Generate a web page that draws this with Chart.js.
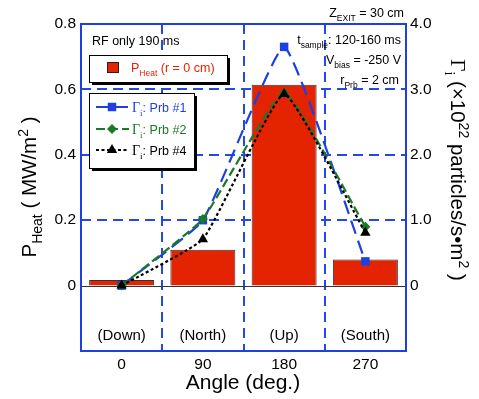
<!DOCTYPE html>
<html><head><meta charset="utf-8">
<script src="https://cdn.jsdelivr.net/npm/chart.js@4"></script>
<style>html,body{margin:0;padding:0;background:#fff}canvas{display:block}</style>
</head><body>
<canvas id="c" width="479" height="399"></canvas>
<script>
const categories = ['0', '90', '180', '270'];
const directions = ['(Down)', '(North)', '(Up)', '(South)'];
const pHeat = [0.017, 0.11, 0.614, 0.08];
const prb1 = [0, 1.0, 3.65, 0.37];
const prb2 = [0, 1.02, 2.95, 0.9];
const prb4 = [0, 0.71, 2.93, 0.81];
const leftTicks = [0, 0.2, 0.4, 0.6, 0.8];
const rightTicks = [0, 1, 2, 3, 4];
const gridLeftValues = [0.2, 0.4, 0.6];

const SANS = '"Liberation Sans", Arial, sans-serif';
const SERIF = '"Liberation Serif", "Times New Roman", serif';
const BLUE = '#1e3fe4';
const GRIDBLUE = '#2448ea';
const GREEN = '#1b7a26';
const RED = '#e42300';

function fmt(v) { return v === 0 ? '0' : v.toFixed(1); }

function rich(ctx, parts, x, y, align) {
  let w = 0;
  parts.forEach(p => {
    ctx.font = p.s + 'px ' + (p.serif ? SERIF : SANS);
    p.w = ctx.measureText(p.t).width; w += p.w;
  });
  let cx = align === 'right' ? x - w : (align === 'center' ? x - w / 2 : x);
  ctx.textAlign = 'left'; ctx.textBaseline = 'alphabetic';
  parts.forEach(p => {
    ctx.font = p.s + 'px ' + (p.serif ? SERIF : SANS);
    ctx.fillStyle = p.c || '#000';
    ctx.fillText(p.t, cx, y + (p.dy || 0));
    cx += p.w;
  });
}

function box(ctx, x, y, w, h) {
  ctx.save();
  ctx.fillStyle = '#000';
  ctx.fillRect(x + 3, y + 3, w, h);
  ctx.fillStyle = '#fff';
  ctx.fillRect(x, y, w, h);
  ctx.strokeStyle = '#000'; ctx.lineWidth = 1;
  ctx.strokeRect(x + 0.5, y + 0.5, w, h);
  ctx.restore();
}

function marker(ctx, style, x, y, r, color) {
  ctx.save();
  ctx.fillStyle = color;
  ctx.beginPath();
  if (style === 'rect') { const s = r * Math.SQRT1_2; ctx.rect(x - s, y - s, 2 * s, 2 * s); }
  else if (style === 'rectRot') { ctx.moveTo(x, y - r); ctx.lineTo(x + r, y); ctx.lineTo(x, y + r); ctx.lineTo(x - r, y); ctx.closePath(); }
  else { ctx.moveTo(x, y - r); ctx.lineTo(x + r * 0.866, y + r * 0.5); ctx.lineTo(x - r * 0.866, y + r * 0.5); ctx.closePath(); }
  ctx.fill();
  ctx.restore();
}

const decor = {
  id: 'decor',
  beforeDatasetsDraw(chart) {
    const ctx = chart.ctx, a = chart.chartArea;
    const xs = chart.scales.x, ys = chart.scales.y;
    ctx.save();
    ctx.strokeStyle = GRIDBLUE; ctx.lineWidth = 2; ctx.setLineDash([10, 6]);
    gridLeftValues.forEach(v => {
      const y = Math.round(ys.getPixelForValue(v));
      ctx.beginPath(); ctx.moveTo(a.left, y); ctx.lineTo(a.right, y); ctx.stroke();
    });
    for (let i = 0; i < categories.length - 1; i++) {
      const x = Math.round((xs.getPixelForValue(i) + xs.getPixelForValue(i + 1)) / 2);
      ctx.beginPath(); ctx.moveTo(x, a.top); ctx.lineTo(x, a.bottom); ctx.stroke();
    }
    ctx.setLineDash([]);
    ctx.strokeStyle = '#333'; ctx.lineWidth = 1;
    const y0 = Math.round(ys.getPixelForValue(0)) + 0.5;
    ctx.beginPath(); ctx.moveTo(a.left, y0); ctx.lineTo(a.right, y0); ctx.stroke();
    ctx.restore();
  },
  afterDraw(chart) {
    const ctx = chart.ctx, a = chart.chartArea;
    const xs = chart.scales.x;
    ctx.save();
    ctx.strokeStyle = BLUE; ctx.lineWidth = 2;
    ctx.strokeRect(a.left, a.top, a.right - a.left, a.bottom - a.top);
    ctx.fillStyle = '#000'; ctx.font = '15px ' + SANS; ctx.textAlign = 'center'; ctx.textBaseline = 'middle';
    directions.forEach((d, i) => ctx.fillText(d, xs.getPixelForValue(i), 336));
    ctx.font = '21px ' + SANS;
    ctx.fillText('Angle (deg.)', 243, 383);
    rich(ctx, [{t: 'RF only 190 ms', s: 12.5}], 92, 45, 'left');
    rich(ctx, [{t: 'Z', s: 12.5}, {t: 'EXIT', s: 8.5, dy: 4}, {t: ' = 30 cm', s: 12.5}], 404, 17, 'right');
    rich(ctx, [{t: 't', s: 12.5}, {t: 'sample', s: 8.5, dy: 4}, {t: ': 120-160 ms', s: 12.5}], 401, 44, 'right');
    rich(ctx, [{t: 'V', s: 12.5}, {t: 'bias', s: 8.5, dy: 4}, {t: ' = -250 V', s: 12.5}], 401, 64, 'right');
    rich(ctx, [{t: 'r', s: 12.5}, {t: 'Prb', s: 8.5, dy: 4}, {t: ' = 2 cm', s: 12.5}], 399, 84, 'right');
    box(ctx, 89, 55, 138, 27);
    ctx.fillStyle = RED; ctx.fillRect(107, 62, 12, 11);
    ctx.strokeStyle = '#222'; ctx.lineWidth = 1; ctx.strokeRect(107.5, 62.5, 11, 10);
    rich(ctx, [{t: 'P', s: 12.5, c: RED}, {t: 'Heat', s: 8.5, dy: 4, c: RED}, {t: ' (r = 0 cm)', s: 12.5, c: RED}], 131, 72, 'left');
    box(ctx, 89, 93, 105, 75);
    const rows = [
      {y: 107, c: BLUE, dash: [14, 4], m: 'rect', r: 6, label: 'Prb #1'},
      {y: 129, c: GREEN, dash: [9, 4], m: 'rectRot', r: 5, label: 'Prb #2'},
      {y: 150, c: '#000', dash: [3, 2.5], m: 'triangle', r: 6, label: 'Prb #4'}
    ];
    rows.forEach(r => {
      ctx.save();
      ctx.strokeStyle = r.c; ctx.lineWidth = 2; ctx.setLineDash(r.dash);
      ctx.beginPath(); ctx.moveTo(96, r.y); ctx.lineTo(129, r.y); ctx.stroke();
      ctx.restore();
      marker(ctx, r.m, 112, r.y, r.r, r.c);
      rich(ctx, [{t: 'Γ', s: 14, serif: true, c: r.c}, {t: 'i', s: 9, serif: true, dy: 4, c: r.c}, {t: ': ' + r.label, s: 12.5, c: r.c}], 132, r.y + 5, 'left');
    });
    ctx.save();
    ctx.translate(28.5, 187); ctx.rotate(-Math.PI / 2);
    rich(ctx, [{t: 'P', s: 20.5}, {t: 'Heat', s: 14, dy: 6}, {t: ' ( MW/m', s: 20.5}, {t: '2', s: 14, dy: -8}, {t: ' )', s: 20.5}], 0, 7, 'center');
    ctx.restore();
    ctx.save();
    ctx.translate(458, 170); ctx.rotate(Math.PI / 2);
    rich(ctx, [{t: 'Γ', s: 21, serif: true}, {t: 'i', s: 14, serif: true, dy: 6}, {t: ' (×10', s: 20.5}, {t: '22', s: 14, dy: -8}, {t: ' particles/s•m', s: 20.5}, {t: '2', s: 14, dy: -8}, {t: ' )', s: 20.5}], 0, 7, 'center');
    ctx.restore();
    ctx.restore();
  }
};

const tickFont = {family: SANS, size: 15.5};

new Chart(document.getElementById('c'), {
  data: {
    labels: categories,
    datasets: [
      {type: 'line', label: 'Prb #4', data: prb4, yAxisID: 'y2', order: 1, borderColor: '#000', backgroundColor: '#000', borderWidth: 2.2, borderDash: [3, 2.5], tension: 0.12, pointStyle: 'triangle', pointRadius: 6, pointBorderWidth: 0},
      {type: 'line', label: 'Prb #2', data: prb2, yAxisID: 'y2', order: 2, borderColor: GREEN, backgroundColor: GREEN, borderWidth: 2.2, borderDash: [9, 4], tension: 0.12, pointStyle: 'rectRot', pointRadius: 5, pointBorderWidth: 0},
      {type: 'line', label: 'Prb #1', data: prb1, yAxisID: 'y2', order: 3, borderColor: BLUE, backgroundColor: BLUE, borderWidth: 2.2, borderDash: [14, 7], tension: 0.12, pointStyle: 'rect', pointRadius: 6, pointBorderWidth: 0},
      {type: 'bar', label: 'PHeat', data: pHeat, yAxisID: 'y', order: 10, backgroundColor: RED, borderColor: '#333', borderWidth: 1, barPercentage: 0.8, categoryPercentage: 1.0}
    ]
  },
  options: {
    responsive: false, animation: false,
    layout: {padding: {top: 24, left: 0, right: 0, bottom: 0}},
    plugins: {legend: {display: false}, tooltip: {enabled: false}},
    scales: {
      x: {type: 'category', offset: true, grid: {display: false, drawTicks: false}, border: {display: false},
          ticks: {font: tickFont, color: '#000', padding: 4, maxRotation: 0},
          afterFit: s => { s.height = 48; }},
      y: {position: 'left', min: -0.2, max: 0.8, grid: {display: false, drawTicks: false}, border: {display: false},
          afterBuildTicks: s => { s.ticks = leftTicks.map(v => ({value: v})); },
          ticks: {font: tickFont, color: '#000', padding: 5, callback: v => fmt(v)},
          afterFit: s => { s.width = 81; }},
      y2: {position: 'right', min: -1, max: 4, grid: {display: false, drawTicks: false}, border: {display: false},
          afterBuildTicks: s => { s.ticks = rightTicks.map(v => ({value: v})); },
          ticks: {font: tickFont, color: '#000', padding: 4, callback: v => fmt(v)},
          afterFit: s => { s.width = 73; }}
    }
  },
  plugins: [decor]
});
</script>
</body></html>
